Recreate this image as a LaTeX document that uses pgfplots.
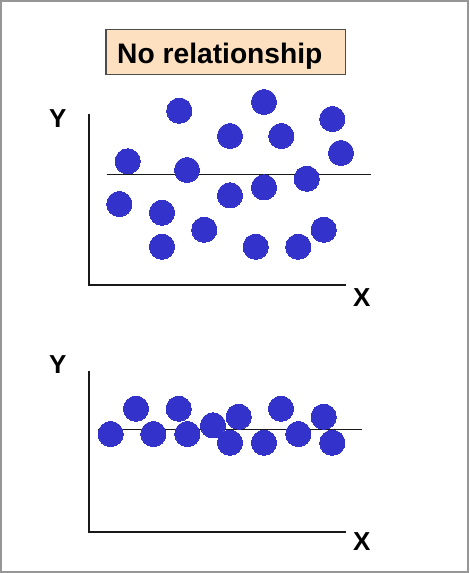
\documentclass[border=0pt]{standalone}
\usepackage{pgfplots}
\pgfplotsset{compat=1.18}
\usepackage{fontspec}
\setmainfont{Liberation Sans}
\definecolor{dotblue}{RGB}{51,51,204}
\definecolor{peach}{RGB}{252,224,192}
\definecolor{framegray}{RGB}{150,150,150}
\pgfplotstableread{
x y
179.3 462.3
264.0 471.0
332.3 454.0
230.0 437.0
281.3 437.0
341.0 420.0
127.7 411.7
187.0 403.0
306.7 394.3
264.0 385.7
230.0 377.7
119.3 369.0
162.0 360.3
204.3 343.3
323.7 343.3
162.0 326.3
255.7 326.3
298.3 326.3
}\toptable
\pgfplotstableread{
x y
110.7 139.0
136.0 164.3
153.3 139.0
178.7 164.3
187.3 139.0
213.0 147.7
238.7 156.3
230.0 130.3
264.0 130.3
281.0 164.3
298.3 139.0
323.7 156.3
332.3 130.3
}\bottable
\begin{document}
\begin{tikzpicture}[x=1pt,y=1pt]
\useasboundingbox (0,0) rectangle (469,573);
\draw[framegray, line width=2pt] (1,1) rectangle (468,572);
% title box
\draw[fill=peach, draw=black!70, line width=1.2pt] (106,498.7) rectangle (345.7,543.7);
\node[anchor=base west, inner sep=0pt, font=\bfseries\fontsize{28.2}{30}\selectfont] at (117,509.7) {No relationship};
\pgfplotsset{
  myaxis/.style={
    x=1pt, y=1pt, scale only axis,
    anchor=south west,
    axis lines=left,
    axis line style={-, line width=1.8pt, black!90, line cap=rect},
    xtick=\empty, ytick=\empty,
    clip=false,
  }
}
\begin{axis}[myaxis, at={(89.3,288)}, xmin=89.3, xmax=345, ymin=288, ymax=458]
\addplot[only marks, mark=*, mark size=12.6pt, mark options={fill=dotblue, draw=dotblue, line width=0pt}] table[x=x,y=y] {\toptable};
\addplot[black!90, line width=1.4pt] coordinates {(106.7,398.7) (370.7,398.7)};
\node[inner sep=0pt, font=\bfseries\fontsize{26}{26}\selectfont] at (axis cs:57.8,454.7) {Y};
\node[inner sep=0pt, font=\bfseries\fontsize{26}{26}\selectfont] at (axis cs:361.7,275.5) {X};
\end{axis}
\begin{axis}[myaxis, at={(89.3,40.7)}, xmin=89.3, xmax=345, ymin=40.7, ymax=201.3]
\addplot[only marks, mark=*, mark size=12.6pt, mark options={fill=dotblue, draw=dotblue, line width=0pt}] table[x=x,y=y] {\bottable};
\addplot[black!90, line width=1.4pt] coordinates {(98.3,143.7) (362.3,143.7)};
\node[inner sep=0pt, font=\bfseries\fontsize{26}{26}\selectfont] at (axis cs:57.8,208) {Y};
\node[inner sep=0pt, font=\bfseries\fontsize{26}{26}\selectfont] at (axis cs:361.7,31) {X};
\end{axis}
\end{tikzpicture}
\end{document}
